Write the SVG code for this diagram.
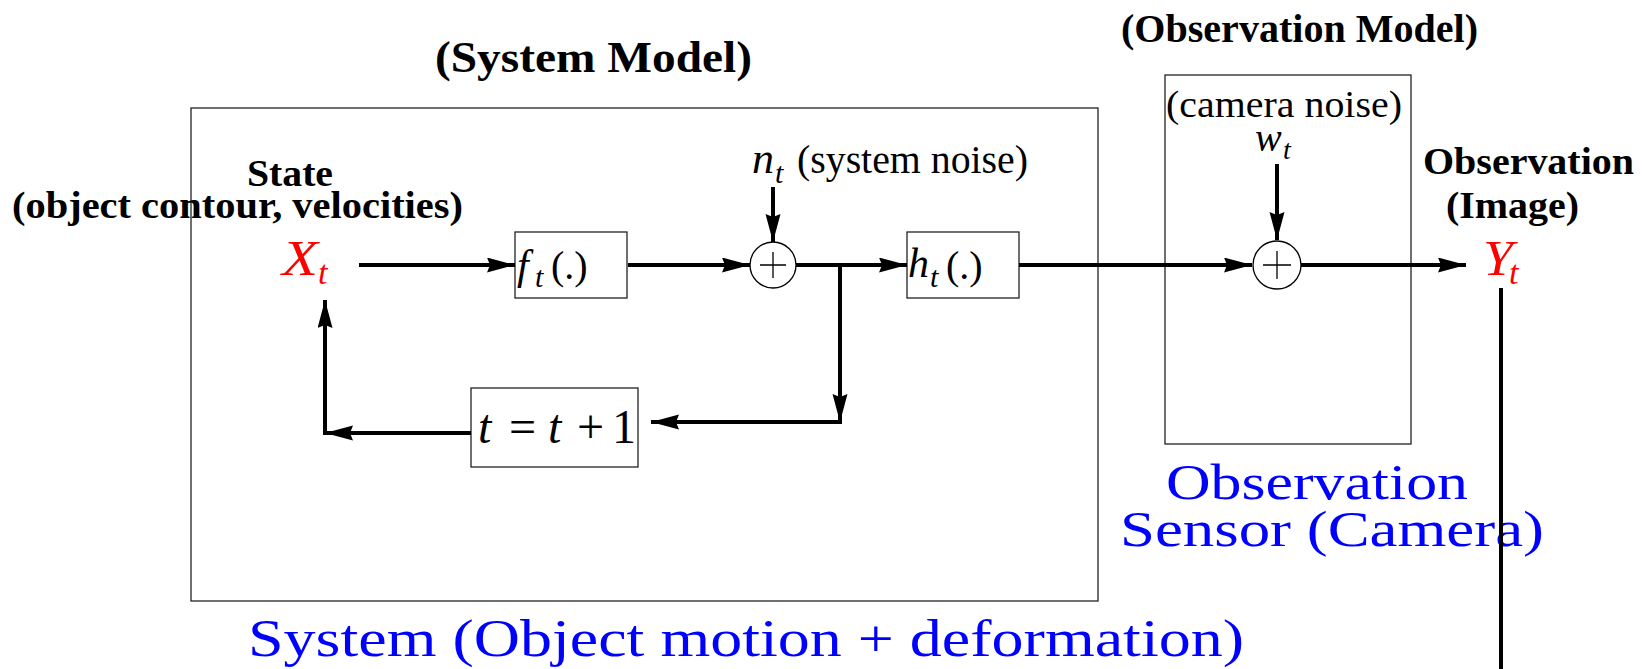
<svg xmlns="http://www.w3.org/2000/svg" width="1642" height="669" viewBox="0 0 1642 669">
<style>
.box{fill:none;stroke:#222;stroke-width:1.3}
.wire{fill:none;stroke:#000;stroke-width:4}
.arr{fill:none;stroke:#000;stroke-width:4;marker-end:url(#ah)}
</style>
<defs>
<marker id="ah" markerUnits="userSpaceOnUse" markerWidth="30" markerHeight="16" refX="28" refY="7.5" orient="auto">
<path d="M0,0 L28,7.5 L0,15 L3,7.5 z" fill="#000"/>
</marker>
</defs>
<rect width="1642" height="669" fill="#fff"/>

<g id="system-model">
<rect class="box" x="191" y="108" width="907" height="493"/>
<text x="435" y="72" font-family="Liberation Serif, Times New Roman, serif" font-weight="bold" font-size="44" textLength="317" lengthAdjust="spacingAndGlyphs">(System Model)</text>
<text x="248" y="656" font-family="Liberation Serif, Times New Roman, serif" font-size="52" fill="#0000ff" textLength="996" lengthAdjust="spacingAndGlyphs">System (Object motion + deformation)</text>
</g>

<g id="observation-model">
<rect class="box" x="1165" y="75" width="246" height="369"/>
<text x="1121" y="42" font-family="Liberation Serif, Times New Roman, serif" font-weight="bold" font-size="40" textLength="357" lengthAdjust="spacingAndGlyphs">(Observation Model)</text>
<text x="1166" y="117" font-family="Liberation Serif, Times New Roman, serif" font-size="38" textLength="236" lengthAdjust="spacingAndGlyphs">(camera noise)</text>
<text x="1166" y="499" font-family="Liberation Serif, Times New Roman, serif" font-size="51" fill="#0000ff" textLength="302" lengthAdjust="spacingAndGlyphs">Observation</text>
<text x="1120" y="546" font-family="Liberation Serif, Times New Roman, serif" font-size="51" fill="#0000ff" textLength="424" lengthAdjust="spacingAndGlyphs">Sensor (Camera)</text>
</g>

<g id="state" font-family="Liberation Serif, Times New Roman, serif">
<text x="247" y="186" font-weight="bold" font-size="38" textLength="86" lengthAdjust="spacingAndGlyphs">State</text>
<text x="12" y="218" font-weight="bold" font-size="38" textLength="451" lengthAdjust="spacingAndGlyphs">(object contour, velocities)</text>
<text x="282" y="275" font-style="italic" font-size="50" fill="#ff0000" textLength="36" lengthAdjust="spacingAndGlyphs">X</text>
<text x="318" y="284" font-style="italic" font-size="34" fill="#ff0000">t</text>
</g>

<g id="f-block" font-family="Liberation Serif, Times New Roman, serif">
<rect class="box" x="515" y="232" width="112" height="66"/>
<text x="517" y="279" font-style="italic" font-size="42">f</text>
<text x="535" y="287" font-style="italic" font-size="30">t</text>
<text x="551" y="279" font-size="40">(.)</text>
</g>

<g id="sum1" font-family="Liberation Serif, Times New Roman, serif">
<circle cx="773" cy="265" r="23" fill="#fff" stroke="#000" stroke-width="1.3"/>
<path d="M760,265 H786 M773,252 V278" stroke="#000" stroke-width="1.3"/>
<text x="752" y="173" font-style="italic" font-size="44">n</text>
<text x="775" y="183" font-style="italic" font-size="30">t</text>
<text x="797" y="173" font-size="40" textLength="231" lengthAdjust="spacingAndGlyphs">(system noise)</text>
</g>

<g id="h-block" font-family="Liberation Serif, Times New Roman, serif">
<rect class="box" x="907" y="232" width="112" height="66"/>
<text x="908" y="277" font-style="italic" font-size="42">h</text>
<text x="930" y="287" font-style="italic" font-size="30">t</text>
<text x="946" y="279" font-size="40">(.)</text>
</g>

<g id="delay" font-family="Liberation Serif, Times New Roman, serif" font-size="48">
<rect class="box" x="471" y="388" width="167" height="79"/>
<text x="478" y="443" font-style="italic">t</text>
<text x="509" y="443">=</text>
<text x="548" y="443" font-style="italic">t</text>
<text x="577" y="443">+</text>
<text x="612" y="443">1</text>
</g>

<g id="sum2" font-family="Liberation Serif, Times New Roman, serif">
<circle cx="1277" cy="265" r="24" fill="#fff" stroke="#000" stroke-width="1.3"/>
<path d="M1263,265 H1291 M1277,251 V279" stroke="#000" stroke-width="1.3"/>
<text x="1255" y="151" font-style="italic" font-size="40">w</text>
<text x="1283" y="159" font-style="italic" font-size="28">t</text>
</g>

<g id="observation" font-family="Liberation Serif, Times New Roman, serif">
<text x="1423" y="174" font-weight="bold" font-size="38" textLength="211" lengthAdjust="spacingAndGlyphs">Observation</text>
<text x="1446" y="218" font-weight="bold" font-size="38" textLength="133" lengthAdjust="spacingAndGlyphs">(Image)</text>
<text x="1483" y="275" font-style="italic" font-size="50" fill="#ff0000" textLength="30" lengthAdjust="spacingAndGlyphs">Y</text>
<text x="1509" y="284" font-style="italic" font-size="34" fill="#ff0000">t</text>
</g>

<g id="connectors">
<line class="arr" x1="359" y1="265" x2="515" y2="265"/>
<line class="arr" x1="628" y1="265" x2="750" y2="265"/>
<line class="arr" x1="773" y1="187" x2="773" y2="242"/>
<line class="arr" x1="796" y1="265" x2="907" y2="265"/>
<line class="arr" x1="840" y1="265" x2="840" y2="422"/>
<line class="arr" x1="842" y1="422" x2="651" y2="422"/>
<line class="arr" x1="471" y1="433" x2="325" y2="433"/>
<line class="arr" x1="325" y1="435" x2="325" y2="300"/>
<line class="arr" x1="1019" y1="265" x2="1252" y2="265"/>
<line class="arr" x1="1277" y1="164" x2="1277" y2="240"/>
<line class="arr" x1="1301" y1="265" x2="1466" y2="265"/>
<line class="wire" x1="1501" y1="288" x2="1501" y2="669"/>
</g>
</svg>
